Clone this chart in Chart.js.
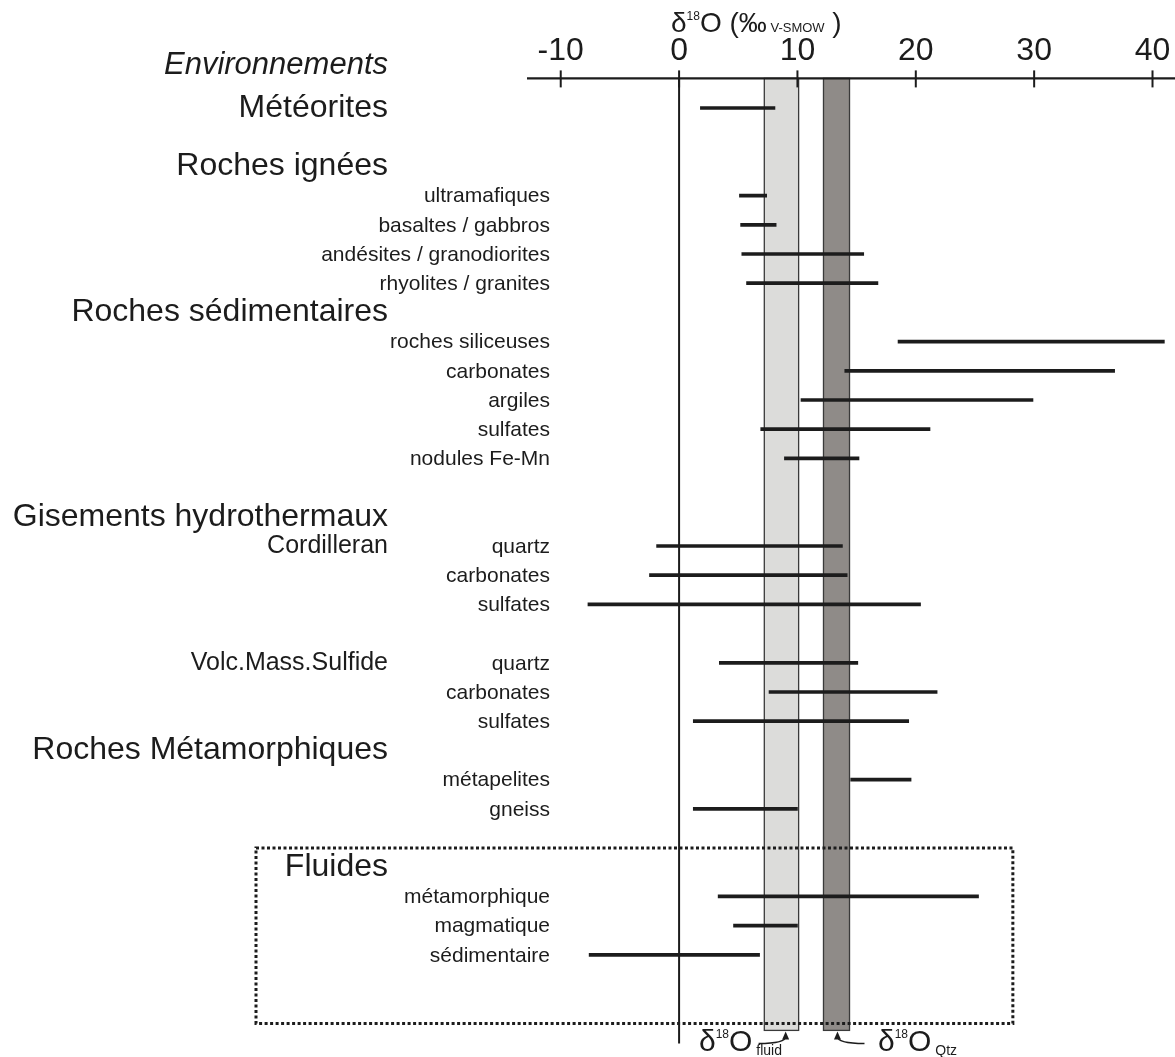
<!DOCTYPE html>
<html>
<head>
<meta charset="utf-8">
<script src="https://cdn.jsdelivr.net/npm/chart.js@4.4.0/dist/chart.umd.min.js"></script>
<style>
  html, body { margin: 0; padding: 0; background: #fff; }
  #wrap { width: 1175px; height: 1057px; position: relative; }
</style>
</head>
<body>
<div id="wrap"><canvas id="chart"></canvas></div>
<script>
// one entry per row, top to bottom
const groupLabels = ['Météorites', '', 'Roches ignées', '', '', '', '', 'Roches sédimentaires', '', '', '', '', '', '',
  'Gisements hydrothermaux', '', '', '', '', '', '', '', 'Roches Métamorphiques', '', '', '', 'Fluides', '', '', ''];
const subgroupLabels = ['', '', '', '', '', '', '', '', '', '', '', '', '', '',
  '', 'Cordilleran', '', '', '', 'Volc.Mass.Sulfide', '', '', '', '', '', '', '', '', '', ''];
const itemLabels = ['', '', '', 'ultramafiques', 'basaltes / gabbros', 'andésites / granodiorites', 'rhyolites / granites', '',
  'roches siliceuses', 'carbonates', 'argiles', 'sulfates', 'nodules Fe-Mn', '',
  '', 'quartz', 'carbonates', 'sulfates', '', 'quartz', 'carbonates', 'sulfates',
  '', 'métapelites', 'gneiss', '', '', 'métamorphique', 'magmatique', 'sédimentaire'];
const lowValues = [1.8, null, null, 5.1, 5.2, 5.3, 5.7, null, 18.5, 14.0, 10.3, 6.9, 8.9, null,
  null, -1.9, -2.5, -7.7, null, 3.4, 7.6, 1.2, null, 14.5, 1.2, null, null, 3.3, 4.6, -7.6];
const highValues = [8.1, null, null, 7.4, 8.2, 15.6, 16.8, null, 41.0, 36.8, 29.9, 21.2, 15.2, null,
  null, 13.8, 14.2, 20.4, null, 15.1, 21.8, 19.4, null, 19.6, 10.0, null, null, 25.3, 10.0, 6.8];

const xTicks = [-10, 0, 10, 20, 30, 40];
const fluidBand = [7.2, 10.1];
const qtzBand = [12.2, 14.4];
const fluidBoxRight = 28.2;

const FONT = '"Liberation Sans", Arial, Helvetica, sans-serif';
const INK = '#1c1c1c';

function text(ctx, s, x, y, size, align, style) {
  ctx.font = (style ? style + ' ' : '') + size + 'px ' + FONT;
  ctx.textAlign = align;
  ctx.textBaseline = 'middle';
  ctx.fillStyle = INK;
  ctx.fillText(s, x, y);
}

function rich(ctx, parts, x, baseline) {
  let cx = x;
  ctx.textAlign = 'left';
  ctx.textBaseline = 'alphabetic';
  ctx.fillStyle = INK;
  parts.forEach(p => {
    ctx.font = p.size + 'px ' + FONT;
    ctx.fillText(p.t, cx, baseline + (p.dy || 0));
    cx += ctx.measureText(p.t).width;
  });
  return cx;
}

function curvedArrow(ctx, x0, y0, x1, y1) {
  ctx.strokeStyle = INK;
  ctx.lineWidth = 1.5;
  ctx.beginPath();
  ctx.moveTo(x0, y0);
  ctx.quadraticCurveTo(x1, y0, x1, y1 + 5);
  ctx.stroke();
  ctx.fillStyle = INK;
  ctx.beginPath();
  ctx.moveTo(x1, y1);
  ctx.lineTo(x1 - 3.5, y1 + 8);
  ctx.lineTo(x1 + 3.5, y1 + 8);
  ctx.closePath();
  ctx.fill();
}

const figure = {
  id: 'figure',
  beforeDatasetsDraw(chart) {
    const { ctx, chartArea, scales: { x } } = chart;
    const axisY = chartArea.top - 15;
    const bandBottom = chartArea.bottom + 61;
    ctx.save();
    [[fluidBand, '#dcdcda'], [qtzBand, '#8f8b88']].forEach(([b, fill]) => {
      const x0 = x.getPixelForValue(b[0]);
      const x1 = x.getPixelForValue(b[1]);
      ctx.fillStyle = fill;
      ctx.fillRect(x0, axisY, x1 - x0, bandBottom - axisY);
      ctx.strokeStyle = '#3a3a3a';
      ctx.lineWidth = 1.3;
      ctx.strokeRect(x0, axisY, x1 - x0, bandBottom - axisY);
    });
    // zero line
    const x0 = x.getPixelForValue(0);
    ctx.strokeStyle = INK;
    ctx.lineWidth = 2;
    ctx.beginPath();
    ctx.moveTo(x0, axisY);
    ctx.lineTo(x0, chartArea.bottom + 74);
    ctx.stroke();
    ctx.restore();
  },
  afterDatasetsDraw(chart) {
    const { ctx, chartArea, scales: { x, y } } = chart;
    const axisY = chartArea.top - 15;
    ctx.save();

    // top axis
    ctx.strokeStyle = INK;
    ctx.lineWidth = 2.2;
    ctx.beginPath();
    ctx.moveTo(chartArea.left, axisY);
    ctx.lineTo(chartArea.right, axisY);
    ctx.stroke();
    ctx.lineWidth = 2;
    xTicks.forEach(v => {
      const px = x.getPixelForValue(v);
      ctx.beginPath();
      ctx.moveTo(px, axisY - 8);
      ctx.lineTo(px, axisY + 9);
      ctx.stroke();
      text(ctx, String(v), px, axisY - 27, 32, 'center');
    });

    // axis title
    rich(ctx, [
      { t: 'δ', size: 28 },
      { t: '18', size: 12, dy: -12 },
      { t: 'O (‰', size: 28 },
      { t: ' V-SMOW', size: 13 },
      { t: ' )', size: 28 }
    ], 671, 32);

    text(ctx, 'Environnements', 388, 65, 31, 'right', 'italic');

    // row labels
    groupLabels.forEach((s, i) => {
      const py = y.getPixelForValue(i);
      if (s) text(ctx, s, 388, py, 32, 'right');
      if (subgroupLabels[i]) text(ctx, subgroupLabels[i], 388, py, 25, 'right');
      if (itemLabels[i]) text(ctx, itemLabels[i], 550, py + 1, 21, 'right');
    });

    // dotted box round the fluids
    const boxTop = y.getPixelForValue(25) + 10;
    const boxBottom = chartArea.bottom + 54;
    const boxRight = x.getPixelForValue(fluidBoxRight);
    ctx.strokeStyle = INK;
    ctx.lineWidth = 3;
    ctx.setLineDash([3, 2.5]);
    ctx.strokeRect(256, boxTop, boxRight - 256, boxBottom - boxTop);
    ctx.setLineDash([]);

    // band captions
    const tipY = chartArea.bottom + 62;
    const fx = x.getPixelForValue(fluidBand[1]) - 13;
    const qx = x.getPixelForValue(qtzBand[0]) + 14;
    curvedArrow(ctx, fx - 27, tipY + 12, fx, tipY);
    curvedArrow(ctx, qx + 27, tipY + 12, qx, tipY);
    rich(ctx, [
      { t: 'δ', size: 30 },
      { t: '18', size: 12, dy: -13 },
      { t: 'O', size: 30 },
      { t: ' fluid', size: 14, dy: 4 }
    ], 699, 1051);
    rich(ctx, [
      { t: 'δ', size: 30 },
      { t: '18', size: 12, dy: -13 },
      { t: 'O', size: 30 },
      { t: ' Qtz', size: 14, dy: 4 }
    ], 878, 1051);

    ctx.restore();
  }
};

const rowCount = groupLabels.length;
const rowHeight = 29.2;
const plotTop = 93.4;

new Chart(document.getElementById('chart'), {
  type: 'bar',
  data: {
    labels: groupLabels.map((g, i) => g || subgroupLabels[i] || itemLabels[i] || ' '),
    datasets: [{
      data: lowValues.map((lo, i) => (lo === null ? null : [lo, highValues[i]])),
      backgroundColor: INK,
      borderWidth: 0,
      borderSkipped: false,
      barThickness: 3
    }]
  },
  options: {
    indexAxis: 'y',
    responsive: true,
    maintainAspectRatio: false,
    animation: false,
    layout: {
      padding: { left: 527, right: 0, top: plotTop, bottom: 1057 - plotTop - rowCount * rowHeight }
    },
    scales: {
      x: { type: 'linear', min: -12.85, max: 41.9, display: false },
      y: { type: 'category', offset: true, display: false }
    },
    plugins: {
      legend: { display: false },
      tooltip: { enabled: false }
    }
  },
  plugins: [figure]
});
</script>
</body>
</html>
